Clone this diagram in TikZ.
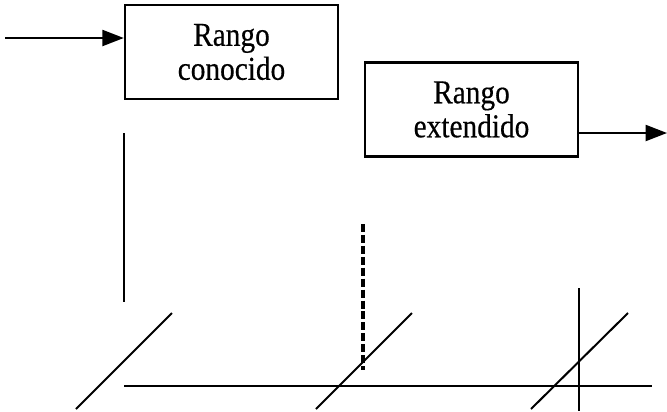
\documentclass[tikz,border=0pt]{standalone}
\usepackage{fontspec}
\setmainfont[FakeStretch=0.88,FakeBold=0.4]{Liberation Serif}
\usetikzlibrary{arrows.meta}
\begin{document}
\begin{tikzpicture}[x=0.75pt,y=-0.75pt,
  box/.style={draw,line width=1.6pt,minimum width=160pt,minimum height=70.5pt,inner sep=0pt,
    align=center,font=\fontsize{25}{25.5}\selectfont},
  arr/.style={line width=1.5pt,-{Triangle[length=16pt,width=12pt]}},
  ln/.style={line width=1.5pt},
  dashln/.style={line width=2.4pt,dash pattern=on 6pt off 2.2pt}]
\useasboundingbox (0,0) rectangle (667,411);
\node[box] (b1) at (231.5,52) {Rango\\conocido};
\node[box] (b2) at (471.5,109.5) {Rango\\extendido};
\coordinate (inS) at (5,38);
\draw[arr] (inS) -- (inS -| b1.west);
\coordinate (outE) at (667,133);
\draw[arr] (b2.east |- outE) -- (outE);
\coordinate (v1t) at (124,133);
\coordinate (v1b) at (124,302);
\draw[ln] (v1t) -- (v1b);
\coordinate (hL) at (124,386);
\coordinate (hR) at (652,386);
\draw[ln] (hL) -- (hR);
\coordinate (d1a) at (76,409);
\coordinate (d1b) at (172,313);
\draw[ln] (d1a) -- (d1b);
\coordinate (d2a) at (316,409);
\coordinate (d2b) at (412,313);
\draw[ln] (d2a) -- (d2b);
\coordinate (d3a) at (531,409);
\coordinate (d3b) at (628,313);
\draw[ln] (d3a) -- (d3b);
\coordinate (v2t) at (578.5,288);
\coordinate (v2b) at (578.5,411);
\draw[ln] (v2t) -- (v2b);
\coordinate (dt) at (363,224);
\coordinate (db) at (363,370);
\draw[dashln] (dt) -- (db);
\end{tikzpicture}
\end{document}
